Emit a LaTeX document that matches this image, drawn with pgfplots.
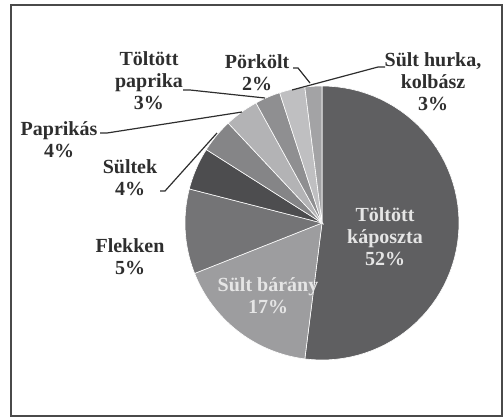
\documentclass[border=0pt]{standalone}
\usepackage{pgfplots}
\pgfplotsset{compat=1.18}
\usepackage{fontspec}
\setmainfont{Liberation Serif}
\definecolor{cA}{HTML}{5F5F61}
\definecolor{cB}{HTML}{9D9D9F}
\definecolor{cC}{HTML}{747476}
\definecolor{cD}{HTML}{4D4D4F}
\definecolor{cE}{HTML}{858587}
\definecolor{cF}{HTML}{B3B3B5}
\definecolor{cG}{HTML}{8F8F91}
\definecolor{cH}{HTML}{BFBFC1}
\definecolor{cI}{HTML}{A3A3A5}
\definecolor{txt}{HTML}{2E2E2E}
\definecolor{frm}{HTML}{4A4A4A}
% #1 cumulative percent before slice, #2 slice percent, #3 colour
\newcommand{\pieslice}[3]{%
  \pgfmathsetmacro{\aS}{90-3.6*(#1+#2)}%
  \pgfmathsetmacro{\aE}{90-3.6*#1}%
  \edef\doslice{\noexpand\addplot[fill=#3, draw=white, line width=0.3pt, domain=\aS:\aE, samples=60, variable=\noexpand\t] ({322+137*cos(\noexpand\t)},{223-137*sin(\noexpand\t)}) -- (axis cs:322,223) -- cycle;}%
  \doslice
}
\begin{document}
\begin{tikzpicture}
\begin{axis}[
  x=0.5pt, y=0.5pt, y dir=reverse,
  xmin=0, xmax=504, ymin=0, ymax=418,
  hide axis, clip=false, scale only axis,
]
\pieslice{0}{52}{cA}
\pieslice{52}{17}{cB}
\pieslice{69}{10}{cC}
\pieslice{79}{5}{cD}
\pieslice{84}{4}{cE}
\pieslice{88}{4}{cF}
\pieslice{92}{3}{cG}
\pieslice{95}{3}{cH}
\pieslice{98}{2}{cI}
\draw[frm, line width=0.9pt] (axis cs:11,5) rectangle (axis cs:502,416);
\begin{scope}[txt, line width=0.6pt]
\draw (axis cs:160,191) -- (axis cs:165,191) -- (axis cs:217,133);
\draw (axis cs:100,133) -- (axis cs:107,133) -- (axis cs:242,112);
\draw (axis cs:183,90) -- (axis cs:190,90) -- (axis cs:265,98);
\draw (axis cs:293,68) -- (axis cs:298,68) -- (axis cs:310,83);
\draw (axis cs:385,67) -- (axis cs:378,67) -- (axis cs:292,90);
\end{scope}
\tikzset{lab/.style={align=center, font=\fontsize{10}{11}\selectfont\bfseries, inner sep=0pt}}
\node[lab, text=white!90!black] at (axis cs:385,237) {Töltött\\káposzta\\52\%};
\node[lab, text=white!90!black] at (axis cs:268,296) {Sült bárány\\17\%};
\node[lab, text=txt] at (axis cs:130,257) {Flekken\\5\%};
\node[lab, text=txt] at (axis cs:130,178) {Sültek\\4\%};
\node[lab, text=txt] at (axis cs:59,140) {Paprikás\\4\%};
\node[lab, text=txt] at (axis cs:149,81) {Töltött\\paprika\\3\%};
\node[lab, text=txt] at (axis cs:257,73) {Pörkölt\\2\%};
\node[lab, text=txt] at (axis cs:433,82) {Sült hurka,\\kolbász\\3\%};
\end{axis}
\pgfresetboundingbox
\path (current axis.south west) rectangle (current axis.north east);
\end{tikzpicture}
\end{document}
